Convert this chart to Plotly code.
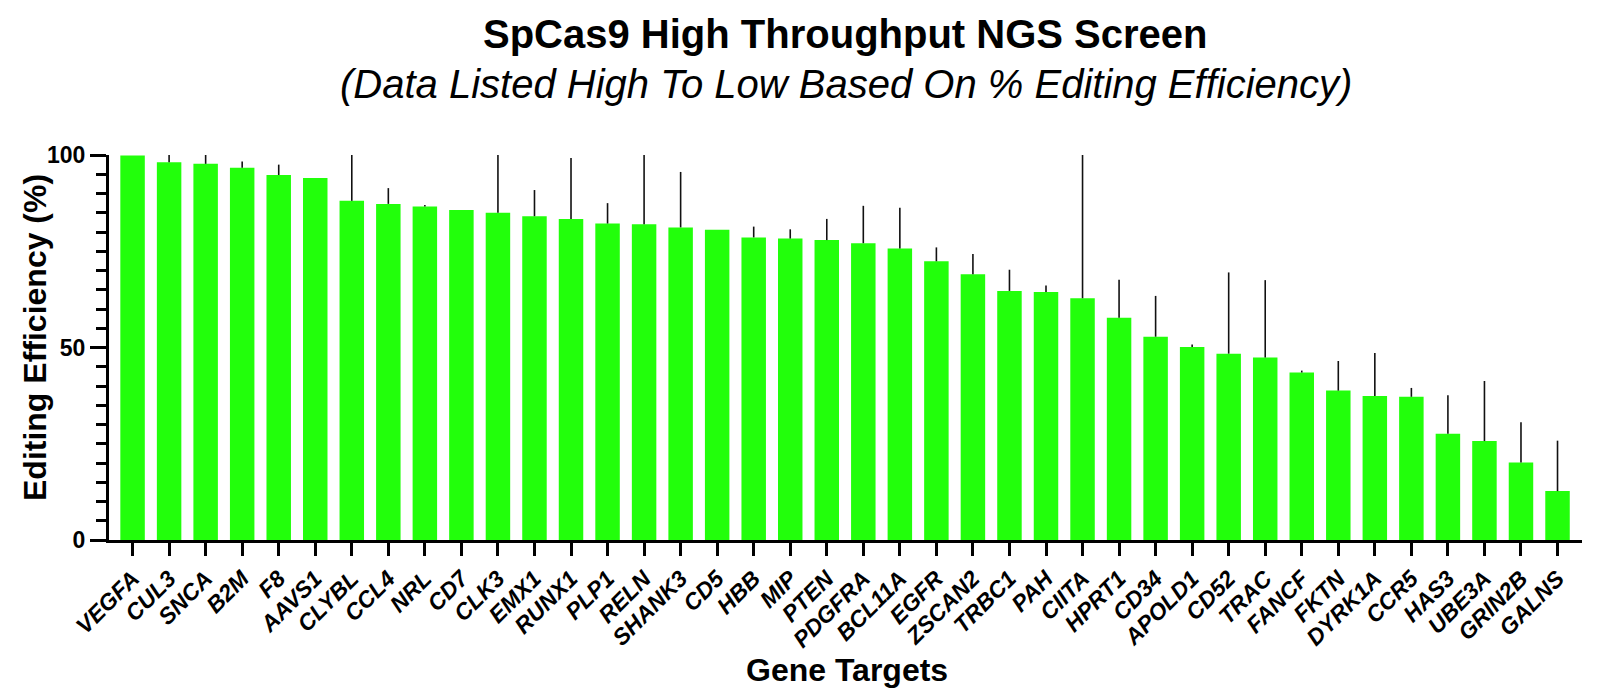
import plotly.graph_objects as go

genes = ["VEGFA", "CUL3", "SNCA", "B2M", "F8", "AAVS1", "CLYBL", "CCL4", "NRL", "CD7",
         "CLK3", "EMX1", "RUNX1", "PLP1", "RELN", "SHANK3", "CD5", "HBB", "MIP", "PTEN",
         "PDGFRA", "BCL11A", "EGFR", "ZSCAN2", "TRBC1", "PAH", "CIITA", "HPRT1", "CD34", "APOLD1",
         "CD52", "TRAC", "FANCF", "FKTN", "DYRK1A", "CCR5", "HAS3", "UBE3A", "GRIN2B", "GALNS"]

efficiency = [99.9, 98.1, 97.7, 96.7, 94.8, 94.0, 88.1, 87.3, 86.6, 85.7,
              85.0, 84.1, 83.4, 82.2, 82.0, 81.2, 80.6, 78.6, 78.3, 77.9,
              77.1, 75.7, 72.4, 69.0, 64.7, 64.4, 62.8, 57.7, 52.8, 50.1,
              48.4, 47.4, 43.5, 38.8, 37.4, 37.2, 27.6, 25.7, 20.1, 12.7]

error_up = [0.0, 1.9, 2.3, 1.6, 2.7, 0.0, 11.9, 4.1, 0.4, 0.0,
            15.0, 6.8, 15.8, 5.3, 18.0, 14.4, 0.0, 2.8, 2.4, 5.5,
            9.7, 10.6, 3.6, 5.3, 5.5, 1.7, 37.2, 9.9, 10.6, 0.7,
            21.1, 20.1, 0.5, 7.7, 11.2, 2.3, 10.0, 15.6, 10.5, 13.1]

major_step = 50
minor_step = 5

FONT = "Liberation Sans, Arial, Helvetica, sans-serif"

# page body has an 8px margin, so the figure is offset by 8px
OFF = 8
W, H = 1600 - OFF, 699 - OFF
PX0, PX1, PY0, PY1 = 109 - OFF, 1582 - OFF, 155 - OFF, 540 - OFF  # plot area in figure px
L, R, T, B = PX0, W - PX1, PY0, H - PY1


def py(y_page):
    return (540 - y_page) / (540 - 155)


def px(x_page):
    return (x_page - 109) / (1582 - 109)


fig = go.Figure()
fig.add_trace(go.Bar(
    x=genes,
    y=efficiency,
    marker=dict(color="#22FF0B", line=dict(width=0)),
    error_y=dict(type="data", symmetric=False, array=error_up,
                 arrayminus=[0] * len(error_up), color="#111111",
                 thickness=1.6, width=0),
))

fig.update_layout(
    width=W, height=H,
    margin=dict(l=L, r=R, t=T, b=B, pad=0),
    paper_bgcolor="white", plot_bgcolor="white",
    bargap=0.33,
    showlegend=False,
    font=dict(family=FONT, color="black"),
    xaxis=dict(
        range=[-0.645, 39.67],
        showline=True, linecolor="black", linewidth=3,
        ticks="outside", ticklen=13, tickwidth=3, tickcolor="black",
        tickangle=-45,
        tickfont=dict(family=FONT, size=23, color="black", weight="bold", style="italic"),
        showgrid=False, zeroline=False, automargin=False,
    ),
    yaxis=dict(
        range=[0, 100],
        tickmode="linear", tick0=0, dtick=major_step,
        showline=True, linecolor="black", linewidth=3,
        ticks="outside", ticklen=16, tickwidth=3, tickcolor="black",
        tickfont=dict(family=FONT, size=23, color="black", weight="bold"),
        minor=dict(tickmode="linear", tick0=0, dtick=minor_step, ticks="outside",
                   ticklen=10, tickwidth=3, tickcolor="black", showgrid=False),
        showgrid=False, zeroline=False, automargin=False,
    ),
    annotations=[
        dict(text="<b>SpCas9 High Throughput NGS Screen</b>", xref="paper", yref="paper",
             x=0.5, y=py(34), xanchor="center", yanchor="middle",
             showarrow=False, font=dict(family=FONT, size=40, color="black")),
        dict(text="<i>(Data Listed High To Low Based On % Editing Efficiency)</i>",
             xref="paper", yref="paper",
             x=0.5, y=py(84), xanchor="center", yanchor="middle",
             showarrow=False, font=dict(family=FONT, size=40, color="black")),
        dict(text="<b>Gene Targets</b>", xref="paper", yref="paper",
             x=px(847), y=py(670),
             xanchor="center", yanchor="middle",
             showarrow=False, font=dict(family=FONT, size=32, color="black")),
        dict(text="<b>Editing Efficiency (%)</b>", xref="paper", yref="paper",
             x=px(35), y=py(338), textangle=-90,
             xanchor="center", yanchor="middle",
             showarrow=False, font=dict(family=FONT, size=32, color="black")),
    ],
)

fig.write_html("out.html")
